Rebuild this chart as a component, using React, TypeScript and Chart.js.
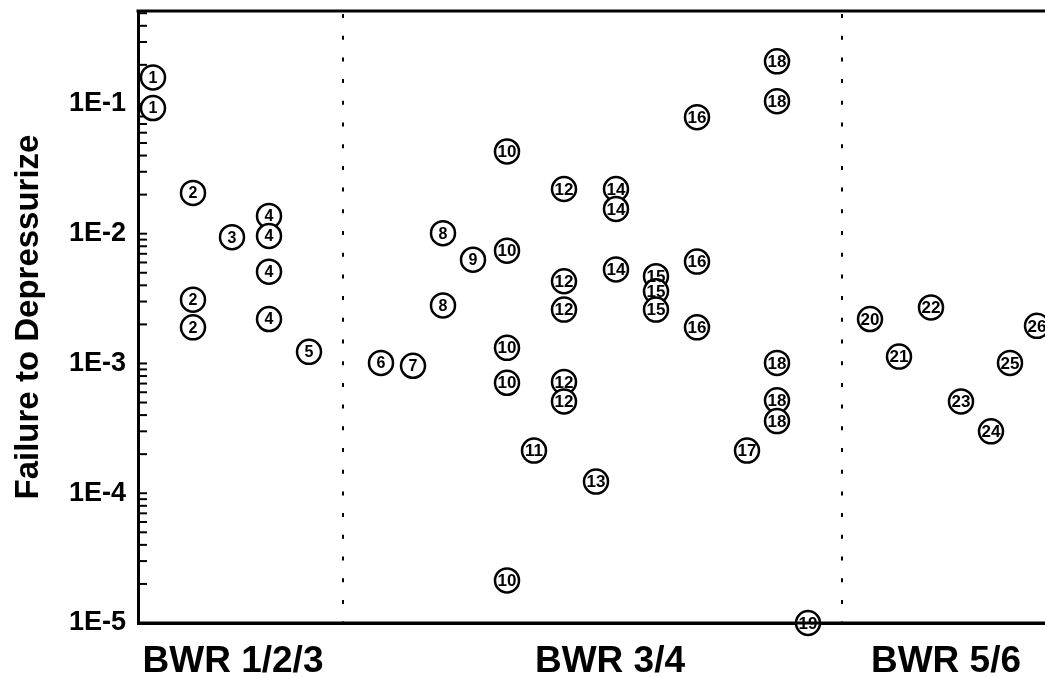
import React, { useEffect, useRef } from 'react';
import { Chart, registerables } from 'chart.js';

Chart.register(...registerables);

const FONT = '"Liberation Sans", Arial, Helvetica, sans-serif';

// Plant identifiers drawn inside the circles
const plantIds = ['1', '2', '3', '4', '5', '6', '7', '8', '9', '10', '11', '12', '13', '14', '15', '16', '17', '18', '19', '20', '21', '22', '23', '24', '25', '26'];

// Horizontal position of each plant's column (x-axis units)
const plantPositions = [15, 55, 94, 131, 171, 243, 275, 305, 335, 369, 396, 426, 458, 478, 518, 559, 609, 639, 670, 732, 761, 793, 823, 853, 872, 899];

// Failure to depressurize estimates per plant
const plantValues: number[][] = [
  [0.16, 0.093],
  [0.0206, 0.0031, 0.0019],
  [0.0094],
  [0.0137, 0.0096, 0.0051, 0.0022],
  [0.00123],
  [0.00101],
  [0.00096],
  [0.0101, 0.0028],
  [0.0063],
  [0.043, 0.0074, 0.00132, 0.00071, 0.0000213],
  [0.000213],
  [0.0221, 0.0043, 0.0026, 0.00072, 0.00051],
  [0.000123],
  [0.0221, 0.0155, 0.0053],
  [0.0047, 0.0036, 0.0026],
  [0.079, 0.0061, 0.0019],
  [0.000213],
  [0.213, 0.105, 0.00101, 0.00052, 0.00036],
  [0.00001],
  [0.0022],
  [0.00113],
  [0.0027],
  [0.00051],
  [0.0003],
  [0.00101],
  [0.00195],
];

// Reactor groups along the x axis
const groupLabels = ['BWR 1/2/3', 'BWR 3/4', 'BWR 5/6'];
const groupCenters = [95, 472, 808];
const groupDividers = [205, 704];

// Axis ranges
const xRange = [0, 907];
const yRange = [1e-5, 0.52];
const yTitle = 'Failure to Depressurize';

export default function App() {
  const canvasRef = useRef<HTMLCanvasElement | null>(null);

  useEffect(() => {
    const canvas = canvasRef.current;
    if (!canvas) return;

    const points: { x: number; y: number; label: string }[] = [];
    plantValues.forEach((vals, i) => {
      vals.forEach((v) => points.push({ x: plantPositions[i], y: v, label: plantIds[i] }));
    });

    const framePlugin = {
      id: 'frame',
      beforeDatasetsDraw(chart: any) {
        const { ctx, chartArea } = chart;
        const xs = chart.scales.x;
        const ys = chart.scales.y;
        ctx.save();
        ctx.strokeStyle = '#000';
        // dotted group dividers
        ctx.lineWidth = 2;
        ctx.setLineDash([4, 17.7]);
        groupDividers.forEach((d) => {
          const px = xs.getPixelForValue(d);
          ctx.beginPath();
          ctx.moveTo(px, chartArea.top + 3);
          ctx.lineTo(px, chartArea.bottom + 2);
          ctx.stroke();
        });
        ctx.setLineDash([]);
        // top border
        ctx.lineWidth = 3;
        ctx.beginPath();
        ctx.moveTo(chartArea.left - 1.5, chartArea.top);
        ctx.lineTo(chartArea.right, chartArea.top);
        ctx.stroke();
        // inward log tick marks
        ctx.lineWidth = 2;
        for (let e = -5; e <= -1; e++) {
          for (let m = 1; m <= 9; m++) {
            const v = m * Math.pow(10, e);
            if (v > yRange[1]) continue;
            const py = ys.getPixelForValue(v);
            ctx.beginPath();
            ctx.moveTo(chartArea.left, py);
            ctx.lineTo(chartArea.left + 9, py);
            ctx.stroke();
          }
        }
        ctx.restore();
      },
    };

    const labelPlugin = {
      id: 'circleLabels',
      afterDatasetsDraw(chart: any) {
        const { ctx, chartArea } = chart;
        const meta = chart.getDatasetMeta(0);
        ctx.save();
        // bottom axis line passes over markers sitting on it
        ctx.strokeStyle = '#000';
        ctx.lineWidth = 3;
        ctx.beginPath();
        ctx.moveTo(chartArea.left, chartArea.bottom);
        ctx.lineTo(chartArea.right, chartArea.bottom);
        ctx.stroke();
        ctx.fillStyle = '#000';
        ctx.textAlign = 'center';
        ctx.textBaseline = 'middle';
        meta.data.forEach((el: any, i: number) => {
          const lab = points[i].label;
          ctx.font = `bold ${lab.length > 1 ? 17 : 16}px ${FONT}`;
          ctx.fillText(lab, el.x, el.y + 1);
        });
        ctx.restore();
      },
    };

    const chart = new Chart(canvas, {
      type: 'scatter',
      data: {
        datasets: [
          {
            data: points.map((p) => ({ x: p.x, y: p.y })),
            pointRadius: 12,
            pointBorderWidth: 2.5,
            pointBackgroundColor: '#fff',
            pointBorderColor: '#000',
            showLine: false,
            clip: false as any,
          },
        ],
      },
      options: {
        responsive: false,
        animation: false,
        devicePixelRatio: 1,
        events: [],
        layout: { autoPadding: false, padding: { top: 11, right: 0, left: 0, bottom: 0 } },
        plugins: { legend: { display: false }, tooltip: { enabled: false } },
        scales: {
          x: {
            type: 'linear',
            min: xRange[0],
            max: xRange[1],
            afterFit: (s: any) => {
              s.height = 54;
              s.paddingLeft = 0;
              s.paddingRight = 0;
            },
            afterBuildTicks: (s: any) => {
              s.ticks = groupCenters.map((v) => ({ value: v }));
            },
            grid: { display: true, drawOnChartArea: false, drawTicks: false },
            border: { display: true, color: '#000', width: 3 },
            ticks: {
              autoSkip: false,
              maxRotation: 0,
              minRotation: 0,
              padding: 17,
              color: '#000',
              font: { family: FONT, size: 37, weight: 'bold' },
              callback: (v: any) => {
                const i = groupCenters.indexOf(Number(v));
                return i >= 0 ? groupLabels[i] : '';
              },
            },
          },
          y: {
            type: 'logarithmic',
            min: yRange[0],
            max: yRange[1],
            afterFit: (s: any) => {
              s.width = 138;
              s.paddingTop = 0;
              s.paddingBottom = 0;
            },
            grid: { display: true, drawOnChartArea: false, drawTicks: false },
            border: { display: true, color: '#000', width: 3 },
            ticks: {
              autoSkip: false,
              padding: 12,
              color: '#000',
              font: { family: FONT, size: 27, weight: 'bold' },
              callback: (v: any) => {
                const l = Math.log10(Number(v));
                if (Math.abs(l - Math.round(l)) < 1e-9) return '1E' + Math.round(l);
                return '';
              },
            },
            title: {
              display: true,
              text: yTitle,
              color: '#000',
              font: { family: FONT, size: 33, weight: 'bold' },
              padding: { top: 9, bottom: 0 },
            },
          },
        },
      } as any,
      plugins: [framePlugin, labelPlugin],
    });

    return () => chart.destroy();
  }, []);

  return (
    <div style={{ position: 'fixed', left: 0, top: 0, width: 1045, height: 677, background: '#fff' }}>
      <canvas ref={canvasRef} width={1045} height={677} style={{ display: 'block' }} />
    </div>
  );
}
